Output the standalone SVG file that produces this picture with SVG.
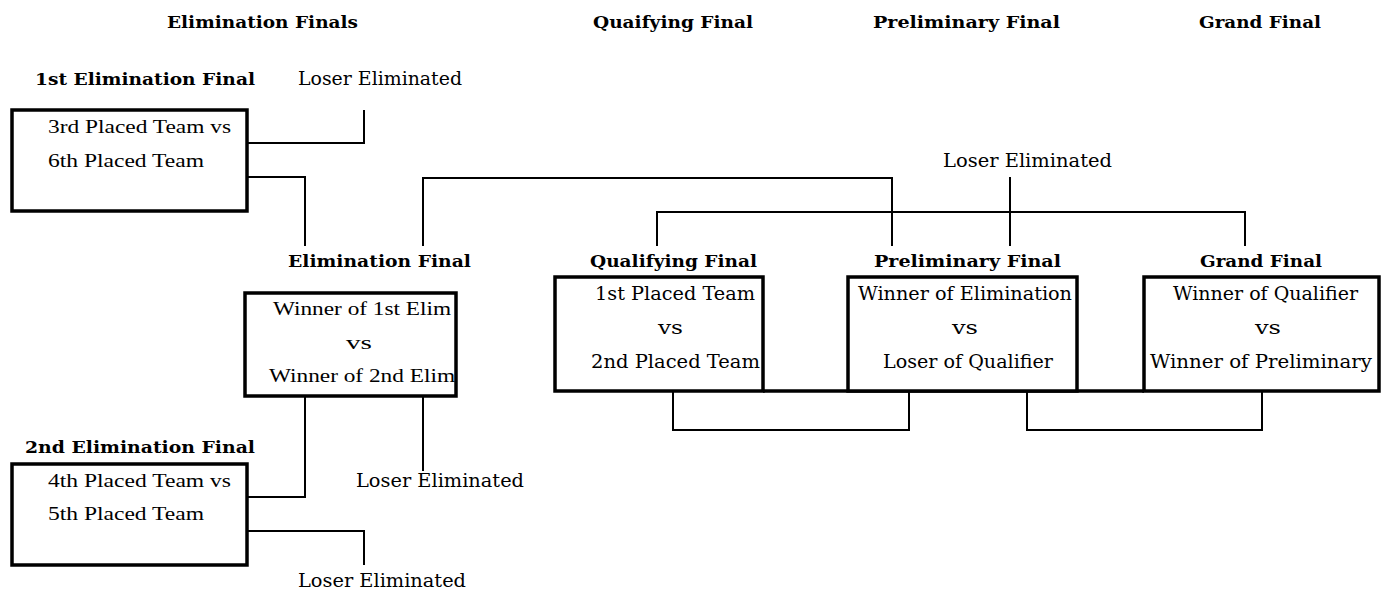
<svg xmlns="http://www.w3.org/2000/svg" width="1387" height="590" viewBox="0 0 1387 590">
<style>
.h{font-family:"DejaVu Serif","Liberation Serif",serif;font-weight:bold;font-size:16.5px;fill:#000}
.k{font-family:"DejaVu Serif","Liberation Serif",serif;font-size:18px;fill:#000}
.t{font-family:"Liberation Serif","Times New Roman",serif;font-size:19px;fill:#000}
.box{fill:#fff;stroke:#000;stroke-width:3.5}
.ln{fill:none;stroke:#000;stroke-width:2}
.thick{fill:none;stroke:#000;stroke-width:3.5}
</style>
<rect width="1387" height="590" fill="#fff"/>
<g id="headings">
<text class="h" x="167" y="28" textLength="191" lengthAdjust="spacingAndGlyphs">Elimination Finals</text>
<text class="h" x="593" y="28" textLength="160" lengthAdjust="spacingAndGlyphs">Quaifying Final</text>
<text class="h" x="873" y="28" textLength="187" lengthAdjust="spacingAndGlyphs">Preliminary Final</text>
<text class="h" x="1199" y="28" textLength="122" lengthAdjust="spacingAndGlyphs">Grand Final</text>
</g>
<g id="connectors">
<polyline class="ln" points="247,143 364,143 364,110"/>
<polyline class="ln" points="247,177 305,177 305,246"/>
<polyline class="ln" points="423,246 423,178 892,178 892,246"/>
<polyline class="ln" points="657,246 657,212 1245,212 1245,246"/>
<line class="ln" x1="1010" y1="177" x2="1010" y2="246"/>
<polyline class="ln" points="305,397 305,497 247,497"/>
<line class="ln" x1="423" y1="397" x2="423" y2="471"/>
<polyline class="ln" points="247,531 364,531 364,565"/>
<line class="thick" x1="763" y1="391" x2="1144" y2="391"/>
<polyline class="ln" points="673,392 673,430 909,430 909,392"/>
<polyline class="ln" points="1027,392 1027,430 1262,430 1262,392"/>
</g>
<g id="elim1">
<text class="h" x="35" y="85" textLength="220" lengthAdjust="spacingAndGlyphs">1st Elimination Final</text>
<rect class="box" x="12" y="110" width="235" height="101"/>
<text class="t" x="48" y="133" textLength="183" lengthAdjust="spacingAndGlyphs">3rd Placed Team vs</text>
<text class="t" x="48" y="167" textLength="156" lengthAdjust="spacingAndGlyphs">6th Placed Team</text>
</g>
<g id="loser1">
<text class="k" x="298" y="85" textLength="164" lengthAdjust="spacingAndGlyphs">Loser Eliminated</text>
</g>
<g id="elimfinal">
<text class="h" x="288" y="267" textLength="183" lengthAdjust="spacingAndGlyphs">Elimination Final</text>
<rect class="box" x="245" y="293" width="211" height="103"/>
<text class="t" x="273" y="315" textLength="178" lengthAdjust="spacingAndGlyphs">Winner of 1st Elim</text>
<text class="t" x="346" y="349" textLength="26" lengthAdjust="spacingAndGlyphs">vs</text>
<text class="t" x="269" y="382" textLength="186" lengthAdjust="spacingAndGlyphs">Winner of 2nd Elim</text>
</g>
<g id="loser2">
<text class="k" x="356" y="487" textLength="168" lengthAdjust="spacingAndGlyphs">Loser Eliminated</text>
</g>
<g id="elim2">
<text class="h" x="25" y="453" textLength="230" lengthAdjust="spacingAndGlyphs">2nd Elimination Final</text>
<rect class="box" x="12" y="464" width="235" height="101"/>
<text class="t" x="48" y="487" textLength="183" lengthAdjust="spacingAndGlyphs">4th Placed Team vs</text>
<text class="t" x="48" y="520" textLength="156" lengthAdjust="spacingAndGlyphs">5th Placed Team</text>
</g>
<g id="loser3">
<text class="k" x="298" y="587" textLength="168" lengthAdjust="spacingAndGlyphs">Loser Eliminated</text>
</g>
<g id="loser4">
<text class="k" x="943" y="167" textLength="169" lengthAdjust="spacingAndGlyphs">Loser Eliminated</text>
</g>
<g id="qualifying">
<text class="h" x="590" y="267" textLength="167" lengthAdjust="spacingAndGlyphs">Qualifying Final</text>
<rect class="box" x="555" y="277" width="208" height="114"/>
<text class="k" x="595" y="300" textLength="160" lengthAdjust="spacingAndGlyphs">1st Placed Team</text>
<text class="k" x="658" y="334" textLength="25" lengthAdjust="spacingAndGlyphs">vs</text>
<text class="k" x="591" y="368" textLength="169" lengthAdjust="spacingAndGlyphs">2nd Placed Team</text>
</g>
<g id="preliminary">
<text class="h" x="874" y="267" textLength="187" lengthAdjust="spacingAndGlyphs">Preliminary Final</text>
<rect class="box" x="848" y="277" width="229" height="114"/>
<text class="k" x="858" y="300" textLength="214" lengthAdjust="spacingAndGlyphs">Winner of Elimination</text>
<text class="k" x="952" y="334" textLength="26" lengthAdjust="spacingAndGlyphs">vs</text>
<text class="k" x="883" y="368" textLength="170" lengthAdjust="spacingAndGlyphs">Loser of Qualifier</text>
</g>
<g id="grand">
<text class="h" x="1200" y="267" textLength="122" lengthAdjust="spacingAndGlyphs">Grand Final</text>
<rect class="box" x="1144" y="277" width="235" height="114"/>
<text class="k" x="1173" y="300" textLength="185" lengthAdjust="spacingAndGlyphs">Winner of Qualifier</text>
<text class="k" x="1255" y="334" textLength="26" lengthAdjust="spacingAndGlyphs">vs</text>
<text class="k" x="1150" y="368" textLength="222" lengthAdjust="spacingAndGlyphs">Winner of Preliminary</text>
</g>
</svg>
